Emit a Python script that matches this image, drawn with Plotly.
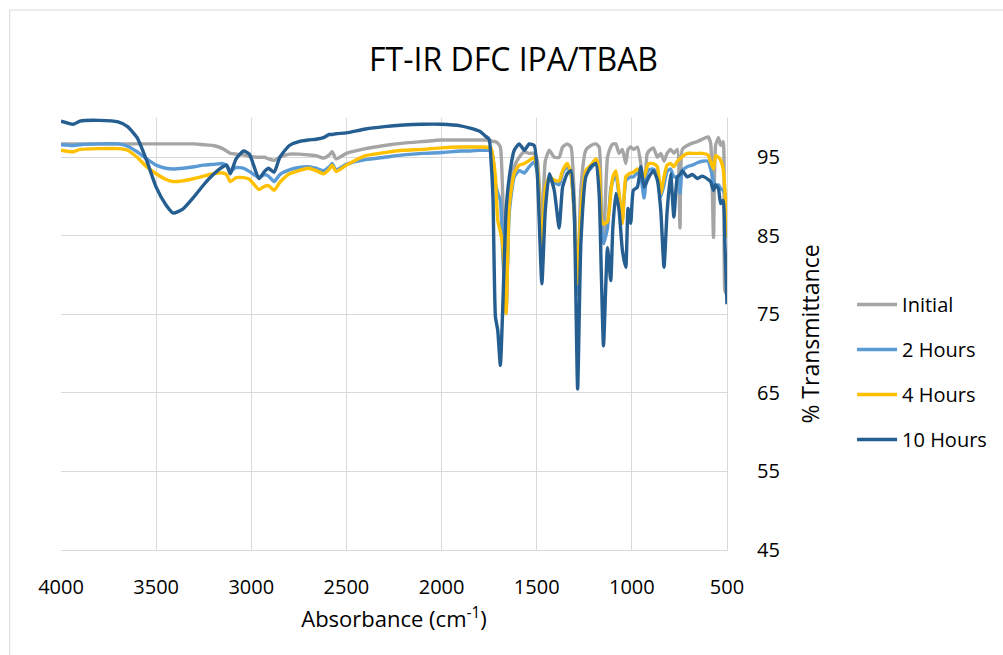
import plotly.graph_objects as go

# Wavenumber grid (cm-1)
wavenumber = [
    4000, 3935, 3900, 3800, 3700, 3650, 3600, 3550, 3500, 3450, 3410, 3360, 3300, 3250,
    3200, 3150, 3130, 3110, 3080, 3040, 3010, 2960, 2930, 2910, 2880, 2850, 2800, 2750,
    2700, 2660, 2620, 2590, 2575, 2555, 2500, 2400, 2300, 2200, 2100, 2000, 1900, 1850,
    1800, 1770, 1750,
    1740, 1730, 1717, 1705, 1691, 1679, 1661, 1644, 1618, 1592, 1565, 1539, 1513, 1496,
    1473, 1455, 1434, 1408, 1382, 1364, 1340, 1320, 1303, 1285, 1268, 1242, 1215, 1189,
    1172, 1160, 1149, 1128, 1111, 1100, 1084, 1067, 1050, 1032, 1020, 1006, 992, 971,
    953, 936, 920, 910, 887, 866, 848, 831, 815, 796, 779, 761, 747, 735, 709, 682, 656,
    630, 600, 586, 571, 560, 545, 533, 520, 511, 500,
]

initial = [
    96.7, 96.7, 96.7, 96.7, 96.7, 96.7, 96.7, 96.7, 96.7, 96.7, 96.7, 96.7, 96.7, 96.6,
    96.5, 96.1, 95.8, 95.5, 95.4, 95.3, 95.1, 95.0, 95.0, 94.8, 94.6, 95.0, 95.4, 95.4,
    95.3, 95.2, 94.9, 95.3, 95.7, 94.8, 95.5, 96.1, 96.5, 96.8, 97.0, 97.2, 97.2, 97.2,
    97.2, 97.2, 97.1,
    97.1, 97.0, 97.0, 96.8, 96.3, 90.4, 75.1, 90.0, 93.8, 95.0, 95.7, 95.5, 95.5, 94.5,
    86.0, 94.5, 95.9, 95.0, 95.0, 96.3, 96.7, 96.3, 90.0, 77.5, 91.0, 95.9, 96.5, 96.7,
    96.3, 88.0, 84.0, 95.0, 96.3, 96.7, 96.7, 95.5, 96.0, 94.2, 96.0, 96.3, 96.0, 96.3,
    94.2, 90.0, 95.4, 95.8, 96.2, 95.0, 95.5, 94.5, 95.5, 96.0, 95.5, 96.0, 86.0, 96.0,
    96.5, 96.8, 97.0, 97.3, 97.6, 96.8, 84.8, 96.5, 97.5, 96.5, 97.0, 78.0, 77.5,
]

hours_2 = [
    96.6, 96.5, 96.6, 96.7, 96.7, 96.4, 95.7, 94.8, 94.0, 93.6, 93.5, 93.6, 93.8, 94.0,
    94.1, 94.2, 94.0, 93.3, 93.7, 93.6, 93.2, 92.4, 92.8, 92.6, 91.9, 92.8, 93.4, 93.7,
    93.8, 93.6, 93.3, 93.8, 94.2, 93.4, 94.1, 94.7, 95.0, 95.3, 95.5, 95.6, 95.8, 95.8,
    95.9, 95.9, 95.9,
    95.9, 95.0, 91.7, 90.5, 89.5, 82.8, 76.0, 88.0, 92.5, 93.3, 93.0, 93.8, 94.4, 93.0,
    81.0, 90.5, 92.2, 91.8, 91.5, 93.0, 93.8, 92.8, 88.0, 78.0, 87.5, 93.0, 93.6, 94.3,
    93.0, 86.5, 84.0, 86.0, 91.0, 92.0, 92.8, 90.0, 87.0, 92.0, 92.3, 92.5, 92.5, 93.0,
    92.5, 89.8, 93.0, 93.4, 93.5, 93.0, 90.0, 91.5, 93.2, 93.5, 92.5, 92.5, 90.4, 93.3,
    93.8, 94.0, 94.3, 94.5, 94.5, 93.5, 92.0, 91.2, 91.5, 91.0, 90.8, 90.3, 90.2,
]

hours_4 = [
    95.9, 95.7, 96.0, 96.1, 96.1, 95.9, 95.0, 93.8, 92.9, 92.2, 91.9, 92.0, 92.3, 92.6,
    92.9, 93.0, 92.8, 91.9, 92.4, 92.4, 92.2, 90.9, 91.3, 91.4, 90.8, 91.8, 92.9, 93.3,
    93.6, 93.3, 92.9, 93.5, 94.0, 93.2, 94.0, 95.2, 95.6, 95.9, 96.0, 96.2, 96.3, 96.3,
    96.3, 96.3, 96.2,
    96.2, 95.0, 92.5, 87.0, 85.5, 84.0, 75.1, 89.0, 93.0, 94.0, 94.2, 94.6, 95.0, 93.5,
    82.0, 91.0, 92.5, 92.1, 92.0, 93.3, 94.2, 93.0, 88.0, 78.9, 88.0, 93.3, 94.0, 94.8,
    93.5, 87.0, 86.5, 86.8, 90.4, 92.5, 93.3, 90.4, 86.6, 92.5, 92.8, 93.0, 93.1, 93.5,
    93.0, 92.5, 93.8, 94.2, 94.2, 93.8, 90.4, 92.5, 94.0, 94.2, 93.8, 94.5, 94.8, 95.1,
    95.5, 95.5, 95.5, 95.5, 95.3, 94.4, 93.5, 95.2, 95.0, 94.6, 93.5, 90.8, 84.8,
]

hours_10 = [
    99.6, 99.2, 99.6, 99.7, 99.5, 98.9, 97.5, 94.6, 91.2, 89.0, 87.9, 88.4, 90.0, 91.5,
    92.8, 93.8, 94.0, 92.9, 94.8, 95.8, 95.4, 92.3, 93.2, 93.6, 93.1, 95.0, 96.5, 97.0,
    97.2, 97.3, 97.5, 97.9, 97.9, 98.0, 98.1, 98.6, 98.9, 99.1, 99.2, 99.2, 99.0, 98.7,
    98.3, 97.7, 97.3,
    94.5, 90.0, 74.7, 73.0, 68.5, 75.5, 88.2, 92.5, 95.9, 96.7, 95.9, 96.7, 96.5, 92.5,
    78.9, 88.2, 92.9, 90.8, 86.0, 91.2, 92.9, 93.3, 88.2, 65.5, 84.0, 92.5, 93.8, 94.2,
    90.4, 79.8, 71.0, 83.5, 79.3, 86.0, 90.4, 88.2, 83.2, 81.0, 88.5, 86.6, 90.8, 91.2,
    93.8, 91.2, 92.0, 92.5, 93.3, 92.1, 88.2, 81.0, 88.0, 92.9, 87.4, 92.5, 92.8, 93.3,
    92.5, 92.8, 92.3, 92.6, 92.2, 91.9, 90.8, 91.5, 91.0, 89.1, 89.5, 84.0, 76.3,
]

series_names = ["Initial", "2 Hours", "4 Hours", "10 Hours"]
series_values = [initial, hours_2, hours_4, hours_10]
series_colors = ["#A5A5A5", "#5B9BD5", "#FFC000", "#255E91"]

x_ticks = [4000, 3500, 3000, 2500, 2000, 1500, 1000, 500]
y_ticks = [45, 55, 65, 75, 85, 95]

FONT = "Open Sans"
TEXT = "#000000"

fig = go.Figure()
for name, vals, col in zip(series_names, series_values, series_colors):
    fig.add_trace(go.Scatter(
        x=wavenumber, y=vals, mode="lines", name=name, legendgroup=name,
        line=dict(color=col, width=3.4, shape="spline", smoothing=0.5),
    ))

fig.update_layout(
    width=1003, height=655,
    paper_bgcolor="white", plot_bgcolor="white",
    margin=dict(l=61, r=275, t=118, b=105),
    font=dict(family=FONT, color=TEXT, size=20),
    title=dict(text="FT-IR DFC IPA/TBAB", x=0.512, xanchor="center",
               y=0.908, yanchor="middle",
               font=dict(family=FONT, size=32, color=TEXT)),
    xaxis=dict(
        range=[4000, 500], tickvals=x_ticks, ticktext=[str(v) for v in x_ticks],
        showgrid=True, gridcolor="#D9D9D9", gridwidth=1,
        showline=True, linecolor="#D9D9D9", linewidth=1,
        zeroline=False, ticks="", ticklabelstandoff=19,
        tickfont=dict(size=20),
        title=dict(text="Absorbance (cm<sup>-1</sup>)", standoff=12,
                   font=dict(size=22)),
    ),
    yaxis=dict(
        range=[45, 100], tickvals=y_ticks, side="right",
        showgrid=True, gridcolor="#D9D9D9", gridwidth=1,
        showline=True, linecolor="#D9D9D9", linewidth=1,
        zeroline=False, ticks="", ticklabelstandoff=25,
        tickfont=dict(size=20),
        title=dict(text="% Transmittance", standoff=24, font=dict(size=23)),
    ),
    legend=dict(x=1.186, xanchor="left", y=0.412, yanchor="middle",
                font=dict(size=20), tracegroupgap=16,
                bgcolor="rgba(0,0,0,0)", itemwidth=40),
    showlegend=True,
    shapes=[dict(type="rect", xref="paper", yref="paper",
                 x0=-0.077, x1=1.6, y0=-0.4, y1=1.25,
                 line=dict(color="#D9D9D9", width=1), layer="below")],
)

fig.write_html("out.html")
